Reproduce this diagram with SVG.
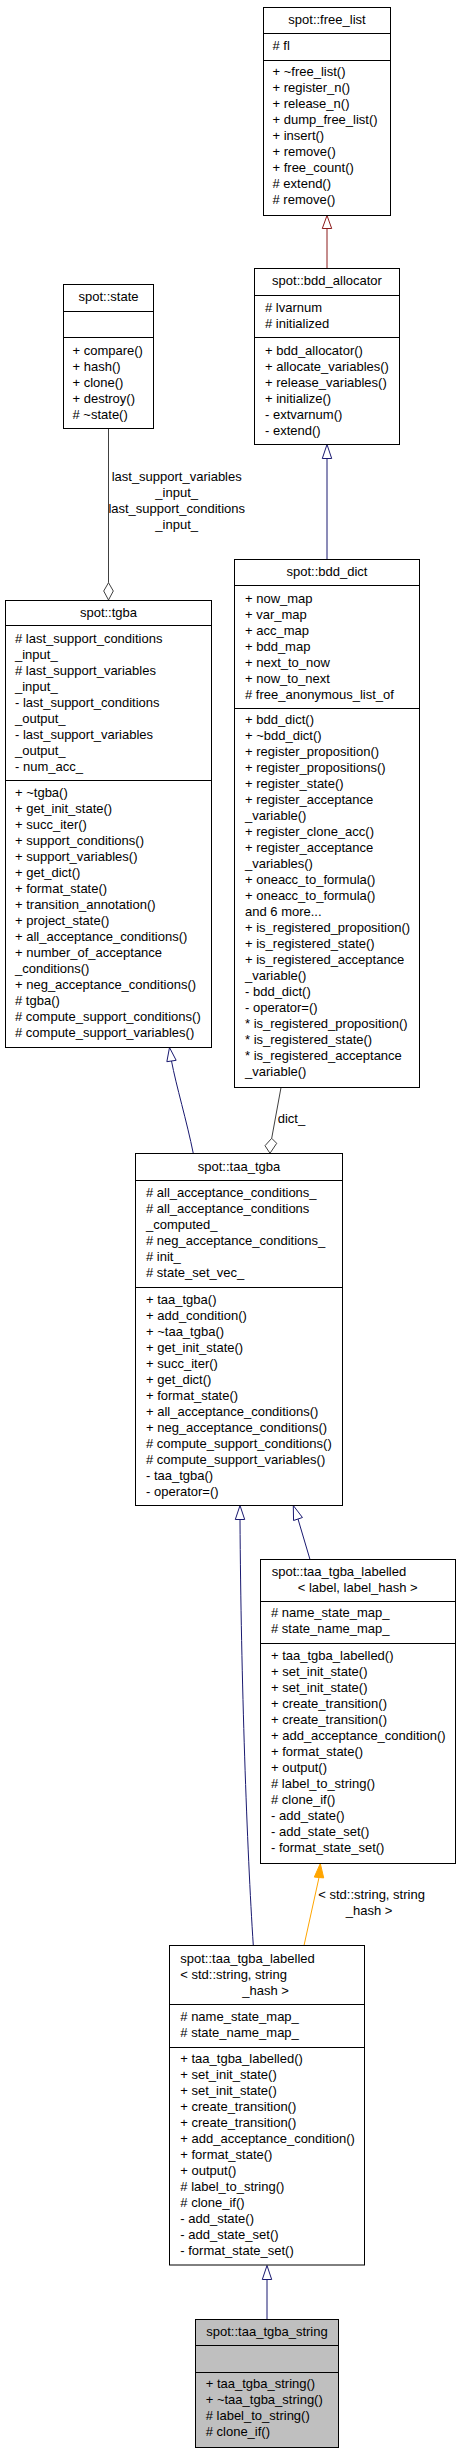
<svg xmlns="http://www.w3.org/2000/svg" width="460" height="2453" viewBox="0 0 460 2453">
<style>
.bg{fill:#fff}
.box{fill:#fff;stroke:#000;stroke-width:1}
.cur{fill:#bfbfbf;stroke:#000;stroke-width:1}
.div{stroke:#000;stroke-width:1}
text{font-family:"Liberation Sans",Arial,Helvetica,sans-serif;font-size:13px;fill:#000}
.c{text-anchor:middle}
.pub{stroke:#191970;fill:none;stroke-width:1}
.pubh{stroke:#191970;fill:#fff;stroke-width:1}
.prot{stroke:#8b1a1a;fill:none;stroke-width:1}
.proth{stroke:#8b1a1a;fill:#fff;stroke-width:1}
.use{stroke:#404040;fill:none;stroke-width:1}
.useh{stroke:#404040;fill:#fff;stroke-width:1}
.tpl{stroke:#ffa500;fill:none;stroke-width:1}
.tplh{stroke:#ffa500;fill:#ffa500;stroke-width:1}
</style>
<rect class="bg" x="0" y="0" width="460" height="2453"/>

<g id="connectors">
  <path class="prot" d="M327,268.5 L327,228.5"/>
  <polygon class="proth" points="327,215.5 322.3,228.5 331.7,228.5"/>
  <path class="pub" d="M327,559.5 L327,458.5"/>
  <polygon class="pubh" points="327,444.5 322.3,458.5 331.7,458.5"/>
  <path class="use" d="M108.5,428.5 L108.5,582.7"/>
  <polygon class="useh" points="108.5,600 103.7,591 108.5,582.7 113.3,591"/>
  <text class="c" x="176.7" y="481">last_support_variables</text>
  <text class="c" x="176.7" y="497">_input_</text>
  <text class="c" x="176.7" y="513">last_support_conditions</text>
  <text class="c" x="176.7" y="529">_input_</text>
  <path class="pub" d="M193.3,1153.5 C187,1122 176,1085 171.5,1061"/>
  <polygon class="pubh" points="169.5,1047.5 166.85,1061.7 176.15,1060.3"/>
  <path class="use" d="M281,1087.5 L271.7,1138.3"/>
  <polygon class="useh" points="270,1153.3 265,1145.7 271.7,1138.3 276.7,1143.3"/>
  <text x="277.7" y="1123">dict_</text>
  <path class="pub" d="M310,1559.5 L298,1519"/>
  <polygon class="pubh" points="293.3,1505.5 293.55,1520.5 302.45,1517.5"/>
  <path class="pub" d="M253.3,1945.5 C247,1850 241,1680 240,1519.5"/>
  <polygon class="pubh" points="240,1505.5 235.3,1519.5 244.7,1519.5"/>
  <path class="tpl" d="M304,1945.5 L319,1877.5"/>
  <polygon class="tplh" points="320.3,1863.5 314.3,1877.1 323.7,1877.9"/>
  <text x="318.3" y="1899">&lt; std::string, string</text>
  <text x="345.7" y="1915">_hash &gt;</text>
  <path class="pub" d="M267,2319.5 L267,2279.5"/>
  <polygon class="pubh" points="267,2265.5 262.3,2279.5 271.7,2279.5"/>
</g>

<g id="n_free_list">
  <rect class="box" x="263.5" y="7.5" width="127" height="208"/>
  <line class="div" x1="263.5" y1="33.5" x2="390.5" y2="33.5"/>
  <line class="div" x1="263.5" y1="60.5" x2="390.5" y2="60.5"/>
  <text class="c" x="327" y="24">spot::free_list</text>
  <text x="272.5" y="50"># fl</text>
  <text x="272.5" y="76">+ ~free_list()</text>
  <text x="272.5" y="92">+ register_n()</text>
  <text x="272.5" y="108">+ release_n()</text>
  <text x="272.5" y="124">+ dump_free_list()</text>
  <text x="272.5" y="140">+ insert()</text>
  <text x="272.5" y="156">+ remove()</text>
  <text x="272.5" y="172">+ free_count()</text>
  <text x="272.5" y="188"># extend()</text>
  <text x="272.5" y="204"># remove()</text>
</g>

<g id="n_state">
  <rect class="box" x="63.5" y="284.5" width="90" height="144"/>
  <line class="div" x1="63.5" y1="311.5" x2="153.5" y2="311.5"/>
  <line class="div" x1="63.5" y1="337.5" x2="153.5" y2="337.5"/>
  <text class="c" x="108.5" y="301">spot::state</text>
  <text x="72.5" y="355">+ compare()</text>
  <text x="72.5" y="371">+ hash()</text>
  <text x="72.5" y="387">+ clone()</text>
  <text x="72.5" y="403">+ destroy()</text>
  <text x="72.5" y="419"># ~state()</text>
</g>

<g id="n_bdd_allocator">
  <rect class="box" x="254.5" y="268.5" width="145" height="176"/>
  <line class="div" x1="254.5" y1="295.5" x2="399.5" y2="295.5"/>
  <line class="div" x1="254.5" y1="337.5" x2="399.5" y2="337.5"/>
  <text class="c" x="327" y="285">spot::bdd_allocator</text>
  <text x="265" y="312"># lvarnum</text>
  <text x="265" y="328"># initialized</text>
  <text x="265" y="355">+ bdd_allocator()</text>
  <text x="265" y="371">+ allocate_variables()</text>
  <text x="265" y="387">+ release_variables()</text>
  <text x="265" y="403">+ initialize()</text>
  <text x="265" y="419">- extvarnum()</text>
  <text x="265" y="435">- extend()</text>
</g>

<g id="n_bdd_dict">
  <rect class="box" x="234.5" y="559.5" width="185" height="528"/>
  <line class="div" x1="234.5" y1="585.5" x2="419.5" y2="585.5"/>
  <line class="div" x1="234.5" y1="708.5" x2="419.5" y2="708.5"/>
  <text class="c" x="327" y="576">spot::bdd_dict</text>
  <text x="245" y="603">+ now_map</text>
  <text x="245" y="619">+ var_map</text>
  <text x="245" y="635">+ acc_map</text>
  <text x="245" y="651">+ bdd_map</text>
  <text x="245" y="667">+ next_to_now</text>
  <text x="245" y="683">+ now_to_next</text>
  <text x="245" y="699"># free_anonymous_list_of</text>
  <text x="245" y="724">+ bdd_dict()</text>
  <text x="245" y="740">+ ~bdd_dict()</text>
  <text x="245" y="756">+ register_proposition()</text>
  <text x="245" y="772">+ register_propositions()</text>
  <text x="245" y="788">+ register_state()</text>
  <text x="245" y="804">+ register_acceptance</text>
  <text x="245" y="820">_variable()</text>
  <text x="245" y="836">+ register_clone_acc()</text>
  <text x="245" y="852">+ register_acceptance</text>
  <text x="245" y="868">_variables()</text>
  <text x="245" y="884">+ oneacc_to_formula()</text>
  <text x="245" y="900">+ oneacc_to_formula()</text>
  <text x="245" y="916">and 6 more...</text>
  <text x="245" y="932">+ is_registered_proposition()</text>
  <text x="245" y="948">+ is_registered_state()</text>
  <text x="245" y="964">+ is_registered_acceptance</text>
  <text x="245" y="980">_variable()</text>
  <text x="245" y="996">- bdd_dict()</text>
  <text x="245" y="1012">- operator=()</text>
  <text x="245" y="1028">* is_registered_proposition()</text>
  <text x="245" y="1044">* is_registered_state()</text>
  <text x="245" y="1060">* is_registered_acceptance</text>
  <text x="245" y="1076">_variable()</text>
</g>

<g id="n_tgba">
  <rect class="box" x="5.5" y="600.5" width="206" height="447"/>
  <line class="div" x1="5.5" y1="625.5" x2="211.5" y2="625.5"/>
  <line class="div" x1="5.5" y1="780.5" x2="211.5" y2="780.5"/>
  <text class="c" x="108.5" y="617">spot::tgba</text>
  <text x="15" y="643"># last_support_conditions</text>
  <text x="15" y="659">_input_</text>
  <text x="15" y="675"># last_support_variables</text>
  <text x="15" y="691">_input_</text>
  <text x="15" y="707">- last_support_conditions</text>
  <text x="15" y="723">_output_</text>
  <text x="15" y="739">- last_support_variables</text>
  <text x="15" y="755">_output_</text>
  <text x="15" y="771">- num_acc_</text>
  <text x="15" y="797">+ ~tgba()</text>
  <text x="15" y="813">+ get_init_state()</text>
  <text x="15" y="829">+ succ_iter()</text>
  <text x="15" y="845">+ support_conditions()</text>
  <text x="15" y="861">+ support_variables()</text>
  <text x="15" y="877">+ get_dict()</text>
  <text x="15" y="893">+ format_state()</text>
  <text x="15" y="909">+ transition_annotation()</text>
  <text x="15" y="925">+ project_state()</text>
  <text x="15" y="941">+ all_acceptance_conditions()</text>
  <text x="15" y="957">+ number_of_acceptance</text>
  <text x="15" y="973">_conditions()</text>
  <text x="15" y="989">+ neg_acceptance_conditions()</text>
  <text x="15" y="1005"># tgba()</text>
  <text x="15" y="1021"># compute_support_conditions()</text>
  <text x="15" y="1037"># compute_support_variables()</text>
</g>

<g id="n_taa_tgba">
  <rect class="box" x="135.5" y="1153.5" width="207" height="352"/>
  <line class="div" x1="135.5" y1="1180.5" x2="342.5" y2="1180.5"/>
  <line class="div" x1="135.5" y1="1287.5" x2="342.5" y2="1287.5"/>
  <text class="c" x="239" y="1171">spot::taa_tgba</text>
  <text x="146" y="1197"># all_acceptance_conditions_</text>
  <text x="146" y="1213"># all_acceptance_conditions</text>
  <text x="146" y="1229">_computed_</text>
  <text x="146" y="1245"># neg_acceptance_conditions_</text>
  <text x="146" y="1261"># init_</text>
  <text x="146" y="1277"># state_set_vec_</text>
  <text x="146" y="1304">+ taa_tgba()</text>
  <text x="146" y="1320">+ add_condition()</text>
  <text x="146" y="1336">+ ~taa_tgba()</text>
  <text x="146" y="1352">+ get_init_state()</text>
  <text x="146" y="1368">+ succ_iter()</text>
  <text x="146" y="1384">+ get_dict()</text>
  <text x="146" y="1400">+ format_state()</text>
  <text x="146" y="1416">+ all_acceptance_conditions()</text>
  <text x="146" y="1432">+ neg_acceptance_conditions()</text>
  <text x="146" y="1448"># compute_support_conditions()</text>
  <text x="146" y="1464"># compute_support_variables()</text>
  <text x="146" y="1480">- taa_tgba()</text>
  <text x="146" y="1496">- operator=()</text>
</g>

<g id="n_taa_tgba_labelled_label">
  <rect class="box" x="260.5" y="1559.5" width="195" height="304"/>
  <line class="div" x1="260.5" y1="1601.5" x2="455.5" y2="1601.5"/>
  <line class="div" x1="260.5" y1="1643.5" x2="455.5" y2="1643.5"/>
  <text x="271.7" y="1576">spot::taa_tgba_labelled</text>
  <text x="297.7" y="1592">&lt; label, label_hash &gt;</text>
  <text x="271" y="1617"># name_state_map_</text>
  <text x="271" y="1633"># state_name_map_</text>
  <text x="271" y="1660">+ taa_tgba_labelled()</text>
  <text x="271" y="1676">+ set_init_state()</text>
  <text x="271" y="1692">+ set_init_state()</text>
  <text x="271" y="1708">+ create_transition()</text>
  <text x="271" y="1724">+ create_transition()</text>
  <text x="271" y="1740">+ add_acceptance_condition()</text>
  <text x="271" y="1756">+ format_state()</text>
  <text x="271" y="1772">+ output()</text>
  <text x="271" y="1788"># label_to_string()</text>
  <text x="271" y="1804"># clone_if()</text>
  <text x="271" y="1820">- add_state()</text>
  <text x="271" y="1836">- add_state_set()</text>
  <text x="271" y="1852">- format_state_set()</text>
</g>

<g id="n_taa_tgba_labelled_string">
  <rect class="box" x="169.5" y="1945.5" width="195" height="319.5"/>
  <line class="div" x1="169.5" y1="2004.5" x2="364.5" y2="2004.5"/>
  <line class="div" x1="169.5" y1="2047.5" x2="364.5" y2="2047.5"/>
  <text x="180.3" y="1963">spot::taa_tgba_labelled</text>
  <text x="180.3" y="1979">&lt; std::string, string</text>
  <text x="242.3" y="1995">_hash &gt;</text>
  <text x="180.3" y="2021"># name_state_map_</text>
  <text x="180.3" y="2037"># state_name_map_</text>
  <text x="180.3" y="2063">+ taa_tgba_labelled()</text>
  <text x="180.3" y="2079">+ set_init_state()</text>
  <text x="180.3" y="2095">+ set_init_state()</text>
  <text x="180.3" y="2111">+ create_transition()</text>
  <text x="180.3" y="2127">+ create_transition()</text>
  <text x="180.3" y="2143">+ add_acceptance_condition()</text>
  <text x="180.3" y="2159">+ format_state()</text>
  <text x="180.3" y="2175">+ output()</text>
  <text x="180.3" y="2191"># label_to_string()</text>
  <text x="180.3" y="2207"># clone_if()</text>
  <text x="180.3" y="2223">- add_state()</text>
  <text x="180.3" y="2239">- add_state_set()</text>
  <text x="180.3" y="2255">- format_state_set()</text>
</g>

<g id="n_taa_tgba_string">
  <rect class="cur" x="195.5" y="2319.5" width="143" height="128"/>
  <line class="div" x1="195.5" y1="2345.5" x2="338.5" y2="2345.5"/>
  <line class="div" x1="195.5" y1="2372.5" x2="338.5" y2="2372.5"/>
  <text class="c" x="267" y="2336">spot::taa_tgba_string</text>
  <text x="205.7" y="2388">+ taa_tgba_string()</text>
  <text x="205.7" y="2404">+ ~taa_tgba_string()</text>
  <text x="205.7" y="2420"># label_to_string()</text>
  <text x="205.7" y="2436"># clone_if()</text>
</g>
</svg>
